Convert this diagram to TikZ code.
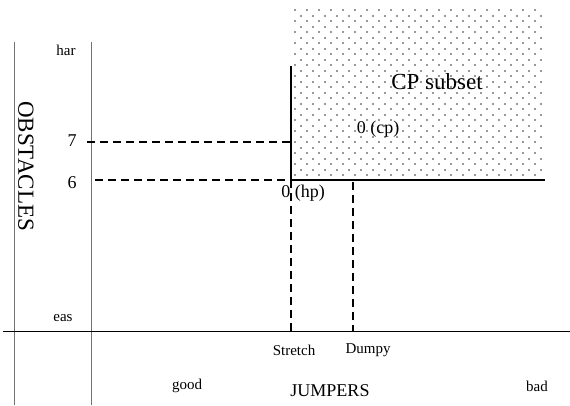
\documentclass[tikz,border=0pt]{standalone}
\usepackage{fontspec}
\setmainfont{Liberation Serif}
\usetikzlibrary{positioning}

\begin{document}
\begin{tikzpicture}[x=1pt,y=-1pt]
\tikzstyle{every node}+=[inner sep=0pt]
\tikzstyle{frame}=[draw=black!55, line width=1pt]
\tikzstyle{guide}=[draw=black, line width=1.4pt, dash pattern=on 8pt off 5pt]
\tikzstyle{small}=[font=\fontsize{15}{17}\selectfont]
\tikzstyle{mid}=[font=\fontsize{18}{20}\selectfont]
\tikzstyle{big}=[font=\fontsize{23}{26}\selectfont]
\useasboundingbox (0,0) rectangle (570,405);
% dotted CP subset area
\foreach \r in {0,...,30} {
  \foreach \c in {0,...,20} {
    \fill [black!40] ({294+6*mod(\r,2)+12*\c},{9+5.5*\r}) rectangle +(2.2,2.2);
  }
}
% frame
\coordinate (ltop) at (14,42);
\coordinate (lbot) at (14,405);
\coordinate (atop) at (91,42);
\coordinate (abot) at (91,405);
\coordinate (xl) at (3,331);
\coordinate (xr) at (570,331);
\draw [frame] (ltop) -- (lbot);
\draw [frame] (atop) -- (abot);
\draw [black, line width=1pt] (xl) -- (xr);
% corner of the subset
\coordinate (hp) at (291,180);
\coordinate (cptop) at (291,66);
\coordinate (cpend) at (545,180);
\draw [black, line width=1.2pt] (cptop) -- (hp) -- (cpend);
% guide lines
\coordinate (g7) at (87,142);
\coordinate (c7) at (291,142);
\coordinate (g6) at (95,180);
\coordinate (sb) at (291,331);
\coordinate (dt) at (353,182);
\coordinate (db) at (353,331);
\draw [guide] (g7) -- (c7);
\draw [guide] (g6) -- (hp);
\draw [guide] (hp) -- (sb);
\draw [guide] (dt) -- (db);
% labels
\node [small] (har) at (66,50) {har};
\node [small] (eas) at (63,318) {eas};
\node [mid] (seven) at (72,141) {7};
\node [mid] (six) at (72,183) {6};
\node [big, rotate=-90] (obst) at (26,166) {OBSTACLES};
\node [big] (cpsub) at (437,82) {CP subset};
\node [mid] (cp) at (378,129) {0 (cp)};
\node [mid] (hplab) at (303,193) {0 (hp)};
\node [small] (stretch) at (294,350) {Stretch};
\node [small] (dumpy) at (368,350) {Dumpy};
\node [small] (good) at (187,386) {good};
\node [mid] (jump) at (330,391) {JUMPERS};
\node [small] (bad) at (537,386) {bad};
\end{tikzpicture}
\end{document}
